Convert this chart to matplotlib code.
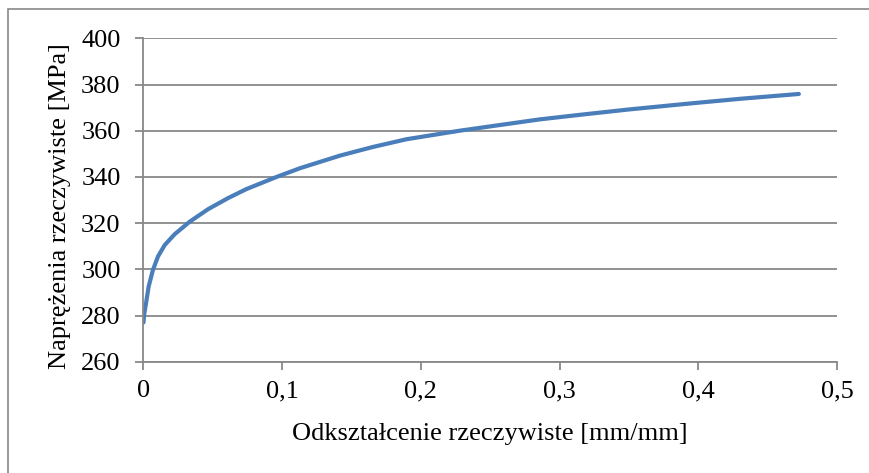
import matplotlib.pyplot as plt
from matplotlib.patches import Rectangle

# True strain [mm/mm] and true stress [MPa]
strain = [0.0, 0.0005, 0.002, 0.0037, 0.0068, 0.0104, 0.0153, 0.0225, 0.0333,
          0.0465, 0.0609, 0.0741, 0.096, 0.113, 0.1416, 0.165, 0.1896, 0.228,
          0.2857, 0.315, 0.35, 0.396, 0.43, 0.4725]
stress = [277.0, 280.5, 286.0, 292.5, 299.7, 305.5, 310.5, 315.2, 320.6,
          326.0, 330.8, 334.7, 340.0, 343.8, 349.2, 352.9, 356.3, 360.0,
          364.9, 366.9, 369.2, 371.9, 373.8, 375.9]

x_ticks = [0.0, 0.1, 0.2, 0.3, 0.4, 0.5]
x_tick_labels = ['0', '0,1', '0,2', '0,3', '0,4', '0,5']
y_ticks = [260, 280, 300, 320, 340, 360, 380, 400]

plt.rcParams['font.family'] = ['Liberation Serif', 'DejaVu Serif']
grid_col = '#888888'
fs = 19

fig = plt.figure(figsize=(8.7, 4.73), dpi=100)
W, H = 870, 473

# outer chart border (left and top edges visible)
fig.patches.append(Rectangle((8 / W, -0.2), 1.5, (H - 9) / H + 0.2,
                             transform=fig.transFigure, fill=False,
                             edgecolor=grid_col, linewidth=1.2))

ax = fig.add_axes([143.5 / W, (H - 361.7) / H, (837 - 143.5) / W, (361.7 - 38.3) / H])
ax.plot(strain, stress, color='#4A7EBB', linewidth=3.0, solid_capstyle='round')

ax.set_xlim(0, 0.5)
ax.set_ylim(260, 400)
ax.set_xticks(x_ticks)
ax.set_xticklabels(x_tick_labels)
ax.set_yticks(y_ticks)
ax.yaxis.grid(True, color=grid_col, linewidth=1.3)
ax.set_axisbelow(True)

for side in ['top', 'right']:
    ax.spines[side].set_visible(False)
for side in ['left', 'bottom']:
    ax.spines[side].set_color(grid_col)
    ax.spines[side].set_linewidth(1.3)

ax.tick_params(axis='both', colors=grid_col, width=1.3, length=5.5,
               labelcolor='black', labelsize=fs)
ax.tick_params(axis='y', pad=11)
ax.tick_params(axis='x', pad=8)

fig.text(60 / W, 1 - 206 / H, 'Naprężenia rzeczywiste [MPa]', rotation=90,
         ha='center', va='center', fontsize=fs)
fig.text(490 / W, 1 - 434 / H, 'Odkształcenie rzeczywiste [mm/mm]',
         ha='center', va='center', fontsize=fs)

fig.savefig('out.png', dpi=100, facecolor='white')
